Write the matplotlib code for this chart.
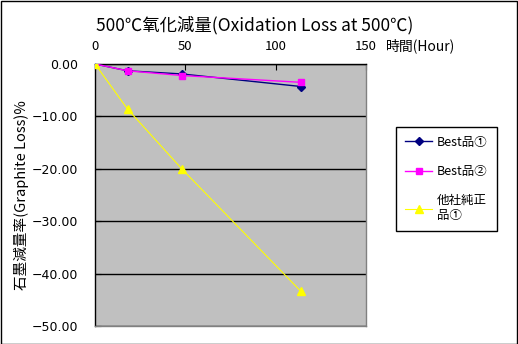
import matplotlib
matplotlib.use("Agg")
import matplotlib.pyplot as plt
from matplotlib.patches import Rectangle

plt.rcParams['font.family'] = ['Noto Sans CJK JP', 'DejaVu Sans']

hours = [0, 18, 48, 114]
best1 = [0.0, -1.3, -1.9, -4.3]
best2 = [0.0, -1.3, -2.2, -3.5]
other = [0.0, -8.6, -20.0, -43.4]
labels = ['Best品①', 'Best品②', '他社純正\n品①']
xticks = [0, 50, 100, 150]
yticks = [0, -10, -20, -30, -40, -50]

fig = plt.figure(figsize=(5.18, 3.44), dpi=100)
fig.patches.append(Rectangle((0.001, 0.001), 0.997, 0.996, transform=fig.transFigure,
                             fill=False, edgecolor='black', linewidth=1))
ax = fig.add_axes([0.1834, 0.0523, 0.5232, 0.7617])
ax.set_facecolor('#C0C0C0')

ax.plot(hours, best1, color='#000080', marker='D', markersize=4, linewidth=1, label=labels[0], zorder=3)
ax.plot(hours, best2, color='#FF00FF', marker='s', markersize=5, linewidth=1, label=labels[1], zorder=3)
ax.plot(hours, other, color='#FFFF00', marker='^', markersize=6, linewidth=0.8, label=labels[2], zorder=3)

ax.set_xlim(0, 150)
ax.set_ylim(-50, 0)
ax.xaxis.tick_top()
ax.set_xticks(xticks)
ax.set_xticklabels([str(v) for v in xticks])
ax.set_yticks(yticks)
ax.set_yticklabels([f'{v:.2f}'.replace('-', '\u2212') for v in yticks], family=['DejaVu Sans'])
ax.tick_params(axis='both', direction='in', labelsize=9.5, length=4, color='black')
ax.tick_params(axis='x', pad=8)
ax.tick_params(axis='y', pad=12, labelsize=9)
ax.yaxis.grid(True, color='black', linewidth=1)
ax.set_axisbelow(True)
for s in ['top', 'left']:
    ax.spines[s].set_color('black')
    ax.spines[s].set_linewidth(1)
for s in ['bottom', 'right']:
    ax.spines[s].set_color('#808080')
    ax.spines[s].set_linewidth(1)

ax.set_ylabel('石墨減量率(Graphite Loss)%', fontsize=10.5, labelpad=2)
fig.text(0.492, 0.926, '500℃氧化減量(Oxidation Loss at 500℃)', ha='center', va='center', fontsize=12.5)
fig.text(0.745, 0.867, '時間(Hour)', ha='left', va='center', fontsize=10)

leg = ax.legend(loc='upper left', bbox_to_anchor=(396/518, 1-127/344), bbox_transform=fig.transFigure,
                fontsize=9, frameon=True, fancybox=False, edgecolor='black', framealpha=1,
                labelspacing=1.3, handlelength=2.2, handletextpad=0.4, borderpad=0.7, borderaxespad=0)
leg.get_frame().set_linewidth(1)

fig.savefig('out.png', dpi=100)
